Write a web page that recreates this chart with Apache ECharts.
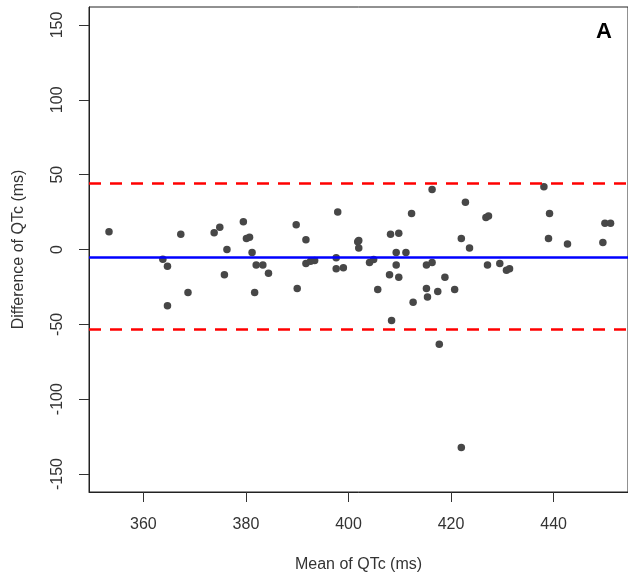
<!DOCTYPE html>
<html>
<head>
<meta charset="utf-8">
<script src="https://cdn.jsdelivr.net/npm/echarts@6/dist/echarts.min.js"></script>
<style>html,body{margin:0;padding:0;background:#fff;}#c{width:628px;height:583px;}</style>
</head>
<body>
<div id="c"></div>
<script>
// Mean of QTc (ms)
const meanQTc = [353.3,363.8,364.7,364.7,367.3,368.7,373.8,374.9,375.8,376.3,379.5,380.1,380.7,381.2,381.7,382.0,383.3,384.4,389.8,390.0,391.7,391.7,392.6,393.4,397.6,397.9,397.6,399.0,401.8,402.0,402.0,404.1,404.9,405.7,408.0,408.2,408.4,409.3,409.3,409.8,409.8,411.2,412.3,412.6,415.2,415.2,415.4,416.3,416.3,417.4,417.7,418.8,420.7,422.0,422.0,422.8,423.6,426.8,427.3,427.1,429.5,430.8,431.4,438.1,439.2,439.0,442.7,449.6,450.0,451.1];
// Difference of QTc (ms)
const diffQTc = [11.9,-6.5,-11.2,-37.5,10.2,-28.8,11.2,14.9,-16.9,0,18.6,7.4,8.2,-2.0,-28.8,-10.4,-10.4,-15.9,16.6,-26.1,6.5,-9.4,-7.9,-7.4,-5.5,25.1,-12.9,-12.2,5.2,6.0,1.0,-8.7,-6.7,-26.8,-16.9,10.2,-47.4,-2.0,-10.4,10.9,-18.6,-2.0,24.1,-35.2,-26.1,-10.4,-31.8,-8.7,40.0,-28.0,-63.3,-18.6,-26.8,7.4,-132.3,31.5,1.0,21.3,22.3,-10.4,-9.4,-13.9,-12.9,41.9,24.1,7.4,3.7,4.7,17.6,17.6];
const meanDiff = -4.9;
const upperLoA = 44.2;
const lowerLoA = -53.4;
const xTicks = [360,380,400,420,440];
const yTicks = [-150,-100,-50,0,50,100,150];
const panelLabel = 'A';

const pts = meanQTc.map((x,i)=>[x,diffQTc[i]]);
const font = '"Liberation Sans", Arial, sans-serif';
const chart = echarts.init(document.getElementById('c'));
chart.setOption({
  animation:false,
  backgroundColor:'#fff',
  grid:{left:89,top:7,right:-2,bottom:91,show:true,borderColor:'#222',borderWidth:1,backgroundColor:'transparent'},
  xAxis:{
    type:'value',min:349.4,max:454.5,
    name:'Mean of QTc (ms)',nameLocation:'middle',nameGap:65,
    nameTextStyle:{fontFamily:font,fontSize:16,color:'#333'},
    axisLine:{show:true,onZero:false,lineStyle:{color:'#222',width:1}},
    axisTick:{show:true,length:10,inside:false,lineStyle:{color:'#333'},customValues:xTicks},
    axisLabel:{fontFamily:font,fontSize:16,color:'#333',margin:25,customValues:xTicks},
    splitLine:{show:false}
  },
  yAxis:{
    type:'value',min:-162,max:162,
    name:'Difference of QTc (ms)',nameLocation:'middle',nameGap:62,nameRotate:90,
    nameTextStyle:{fontFamily:font,fontSize:16,color:'#333'},
    axisLine:{show:true,onZero:false,lineStyle:{color:'#222',width:1}},
    axisTick:{show:true,length:10,inside:false,lineStyle:{color:'#333'},customValues:yTicks},
    axisLabel:{fontFamily:font,fontSize:16,color:'#333',margin:23,rotate:90,customValues:yTicks},
    splitLine:{show:false}
  },
  graphic:[{type:'text',left:596,top:21,style:{text:panelLabel,font:'bold 22px '+font,fill:'#000'}}],
  series:[{
    type:'scatter',data:pts,symbol:'circle',symbolSize:7.5,
    itemStyle:{color:'#474747',opacity:1},
    markLine:{
      silent:true,symbol:'none',label:{show:false},animation:false,
      data:[
        {yAxis:meanDiff,lineStyle:{color:'#0000ff',width:2.5,type:'solid'}},
        {yAxis:upperLoA,lineStyle:{color:'#ff0000',width:2.5,type:[12,9]}},
        {yAxis:lowerLoA,lineStyle:{color:'#ff0000',width:2.5,type:[12,9]}}
      ]
    },
    z:3
  }]
});
</script>
</body>
</html>
